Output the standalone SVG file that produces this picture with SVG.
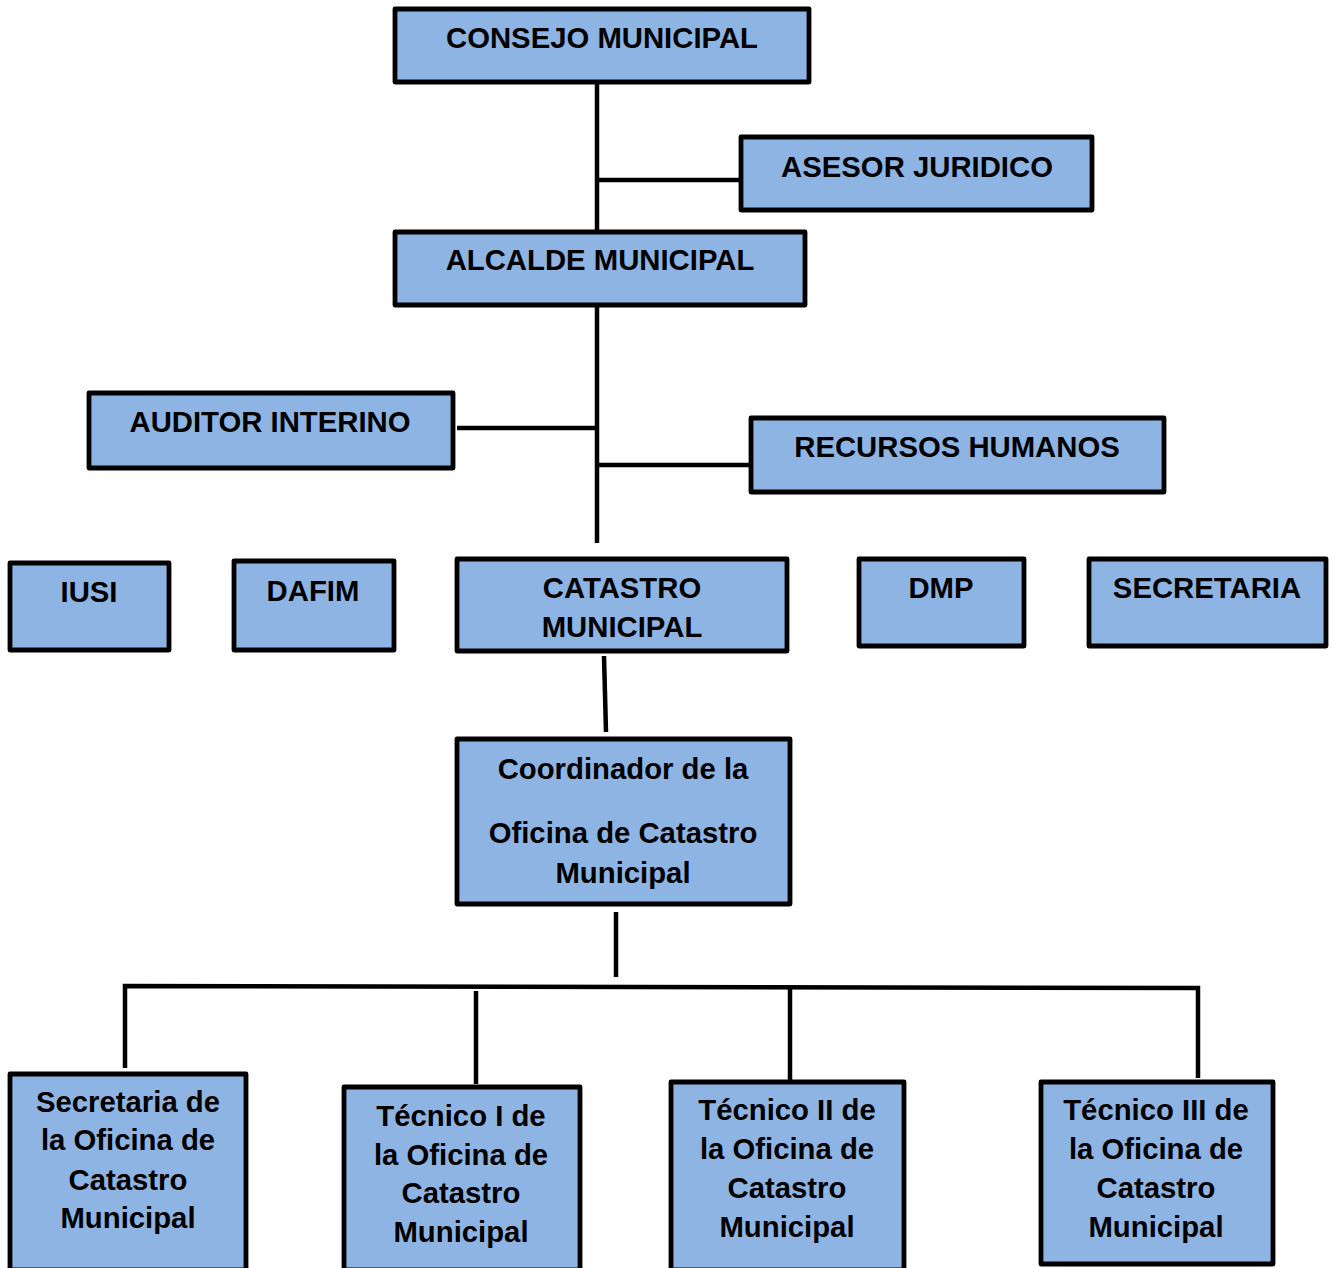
<svg xmlns="http://www.w3.org/2000/svg" width="1332" height="1268" viewBox="0 0 1332 1268">
<style>
.box{fill:#8EB4E3;stroke:#000;stroke-width:4.8;stroke-linejoin:round}
.t{font-family:"Liberation Sans",Arial,sans-serif;font-weight:bold;font-size:29.3px;fill:#000;text-anchor:middle}
.c{stroke:#000;stroke-width:4.5;fill:none}
</style>
<rect width="1332" height="1268" fill="#fff"/>
<g id="connectors">
<line class="c" x1="597" y1="84" x2="597" y2="232"/>
<line class="c" x1="597" y1="180" x2="741" y2="180"/>
<line class="c" x1="597" y1="305" x2="597" y2="543"/>
<line class="c" x1="457" y1="428" x2="597" y2="428"/>
<line class="c" x1="597" y1="465" x2="751" y2="465"/>
<line class="c" x1="604" y1="656" x2="606" y2="732"/>
<line class="c" x1="616" y1="912" x2="616" y2="977"/>
<polyline class="c" points="125,1068 125,986 1198,988 1198,1078"/>
<line class="c" x1="476" y1="991" x2="476" y2="1084"/>
<line class="c" x1="790" y1="987" x2="790" y2="1080"/>
</g>
<g id="consejo"><rect class="box" x="395" y="9" width="414" height="73"/><text class="t" x="602" y="48">CONSEJO MUNICIPAL</text></g>
<g id="asesor"><rect class="box" x="741" y="137" width="351" height="73"/><text class="t" x="917" y="177">ASESOR JURIDICO</text></g>
<g id="alcalde"><rect class="box" x="395" y="232" width="410" height="73"/><text class="t" x="600" y="270">ALCALDE MUNICIPAL</text></g>
<g id="auditor"><rect class="box" x="89" y="393" width="364" height="75"/><text class="t" x="270" y="432">AUDITOR INTERINO</text></g>
<g id="rrhh"><rect class="box" x="751" y="418" width="413" height="74"/><text class="t" x="957" y="457">RECURSOS HUMANOS</text></g>
<g id="iusi"><rect class="box" x="10" y="563" width="159" height="87"/><text class="t" x="89" y="602">IUSI</text></g>
<g id="dafim"><rect class="box" x="234" y="561" width="160" height="89"/><text class="t" x="313" y="601">DAFIM</text></g>
<g id="catastro"><rect class="box" x="457" y="559" width="330" height="92"/><text class="t" x="622" y="598">CATASTRO</text><text class="t" x="622" y="637">MUNICIPAL</text></g>
<g id="dmp"><rect class="box" x="859" y="559" width="165" height="87"/><text class="t" x="941" y="598">DMP</text></g>
<g id="secretaria"><rect class="box" x="1089" y="559" width="237" height="87"/><text class="t" x="1207" y="598">SECRETARIA</text></g>
<g id="coordinador"><rect class="box" x="457" y="739" width="333" height="165"/><text class="t" x="623" y="779">Coordinador de la</text><text class="t" x="623" y="843">Oficina de Catastro</text><text class="t" x="623" y="883">Municipal</text></g>
<g id="sec-oficina"><rect class="box" x="10" y="1074" width="236" height="196"/><text class="t" x="128" y="1112">Secretaria de</text><text class="t" x="128" y="1150">la Oficina de</text><text class="t" x="128" y="1190">Catastro</text><text class="t" x="128" y="1228">Municipal</text></g>
<g id="tecnico1"><rect class="box" x="344" y="1087" width="236" height="183"/><text class="t" x="461" y="1126">Técnico I de</text><text class="t" x="461" y="1165">la Oficina de</text><text class="t" x="461" y="1203">Catastro</text><text class="t" x="461" y="1242">Municipal</text></g>
<g id="tecnico2"><rect class="box" x="671" y="1082" width="233" height="188"/><text class="t" x="787" y="1120">Técnico II de</text><text class="t" x="787" y="1159">la Oficina de</text><text class="t" x="787" y="1198">Catastro</text><text class="t" x="787" y="1237">Municipal</text></g>
<g id="tecnico3"><rect class="box" x="1041" y="1082" width="232" height="182"/><text class="t" x="1156" y="1120">Técnico III de</text><text class="t" x="1156" y="1159">la Oficina de</text><text class="t" x="1156" y="1198">Catastro</text><text class="t" x="1156" y="1237">Municipal</text></g>
</svg>
